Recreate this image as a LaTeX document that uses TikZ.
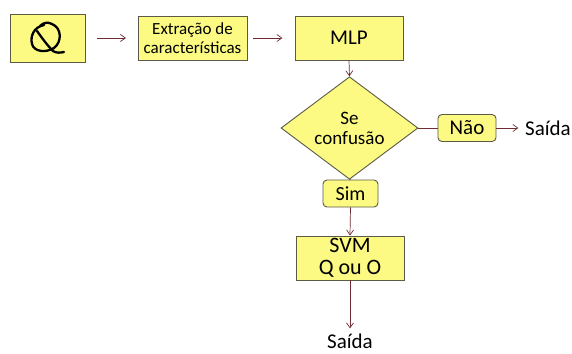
\documentclass[tikz,border=0pt]{standalone}
\usepackage{fontspec}
\setmainfont{Carlito}
\usetikzlibrary{arrows.meta,shapes.geometric}
\definecolor{boxfill}{RGB}{252,250,130}
\definecolor{boxline}{RGB}{90,90,70}
\definecolor{arr}{RGB}{110,45,50}
\begin{document}
\begin{tikzpicture}[x=1pt,y=-1pt,
  box/.style={draw=boxline,fill=boxfill,line width=0.9pt,inner sep=0pt,align=center},
  tag/.style={draw=boxline,fill=boxfill,line width=0.9pt,rounded corners=4pt,inner sep=0pt,align=center},
  conn/.style={draw=arr,line width=0.7pt,-{Straight Barb[length=5pt,width=7pt]}},
  plain/.style={draw=arr,line width=0.7pt}]
\useasboundingbox (0,0) rectangle (572,353);
\node[box,minimum width=75pt,minimum height=48pt] (q) at (47.5,38) {};
\node[box,minimum width=109pt,minimum height=44pt,font=\fontsize{17}{19}\selectfont] (ext) at (192.5,38) {Extração de\\características};
\node[box,minimum width=108pt,minimum height=44pt,font=\fontsize{21}{22}\selectfont] (mlp) at (349,38) {MLP};
\node[diamond,draw=boxline,fill=boxfill,line width=0.9pt,minimum width=137pt,minimum height=80pt,inner sep=0pt,align=center,font=\fontsize{19}{20}\selectfont] (dec) at (349.5,128) {Se\\confusão};
\node[tag,minimum width=58pt,minimum height=27pt,font=\fontsize{21}{22}\selectfont] (nao) at (467,128) {Não};
\node[font=\fontsize{21}{22}\selectfont] (s1) at (548,128) {Saída};
\node[tag,minimum width=55pt,minimum height=27pt,font=\fontsize{20}{22}\selectfont] (sim) at (350.5,193.5) {Sim};
\node[box,minimum width=108pt,minimum height=44pt,font=\fontsize{22}{22}\selectfont] (svm) at (350,258) {SVM\\Q ou O};
\node[font=\fontsize{21}{22}\selectfont] (s2) at (350,341) {Saída};
% handwritten Q
\begin{scope}[line width=2.3pt,line cap=round,line join=round]
\draw (44,25) .. controls (34,27) and (30,36) .. (32,44)
  .. controls (34,52) and (46,53) .. (54,48)
  .. controls (62,42) and (62,28) .. (52,24)
  .. controls (48,22) and (44,22) .. (40,26);
\draw (37,31) .. controls (42,38) and (47,45) .. (53,51)
  .. controls (56,53) and (60,53) .. (64,52);
\end{scope}
\coordinate (a1) at (97,38); \coordinate (a2) at (126,38);
\draw[conn] (a1) -- (a2);
\draw[conn] (ext.east) ++(6,0) coordinate (b1) -- ++(29,0) coordinate (b2);
\draw[conn] (mlp.south) -- (dec.north);
\draw[plain] (dec.east) -- (nao.west);
\draw[conn] (nao.east) -- ++(22,0) coordinate (c2);
\draw[plain] (dec.south) -- (sim.north);
\draw[conn] (sim.south) -- (svm.north);
\draw[conn] (svm.south) -- ++(0,48) coordinate (d2);
\end{tikzpicture}
\end{document}
